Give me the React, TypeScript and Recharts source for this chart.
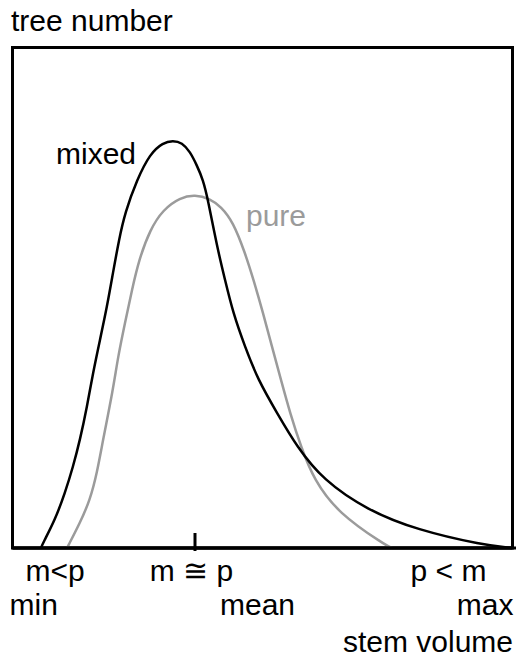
import {
  LineChart,
  Line,
  XAxis,
  YAxis,
  ReferenceArea,
  ReferenceLine,
  ReferenceDot,
} from 'recharts';

// stem volume (0 = min, 100 = max) against tree number (relative)
const mixedX = [5.7, 6.1, 8.5, 10.5, 12.1, 13.5, 14.9, 16.1, 17.5, 18.9, 20.1, 21.3, 22.5, 24.9, 27.5, 30.1, 32.1, 33.9, 35.5, 36.9, 38.1, 39.1, 40.9, 42.5, 44.1, 46.5, 49.1, 52.9, 56.9, 62.1, 70.9, 80.9, 94.1, 99.9];
const mixedY = [0, 1, 5.6, 11, 16.2, 21.6, 28.2, 35, 41.6, 48.2, 55, 61.6, 67, 73.6, 78.8, 81, 81.4, 81, 79.2, 76.4, 73.6, 69.6, 60.2, 53.6, 47, 40.2, 33.6, 27, 20.2, 13.6, 7.6, 3.6, 0.6, 0];

const pureX = [10.9, 13.5, 15.5, 16.9, 18.1, 20.1, 21.1, 22.5, 23.9, 25.3, 27.5, 30.1, 33.5, 36.5, 39.5, 41.7, 44.1, 46.5, 48.2, 50.1, 51.9, 53.7, 55.5, 57.7, 60.3, 65.1, 74.5, 75.9];
const pureY = [0, 5, 9.6, 15, 21.6, 31.6, 38.2, 45, 51.6, 57.6, 63.6, 67.6, 70, 70.6, 69.8, 68.2, 65.2, 59, 53.6, 47, 40.2, 33.6, 27, 20.2, 13.6, 7, 0.6, 0];

const ratioTicks = [8.5, 35.8, 87.2];
const ratioLabels = ['m<p', 'm \u2245 p', 'p < m'];
const rangeTicks = [0, 49, 100];
const rangeLabels = ['min', 'mean', 'max'];
const meanMark = 36.5;

const mixedData = mixedX.map((x, i) => ({ x, y: mixedY[i] }));
const pureData = pureX.map((x, i) => ({ x, y: pureY[i] }));

const FONT = '"Liberation Sans", Arial, sans-serif';
const GREY = '#9b9b9b';

function note(text: string, color = '#000', anchor = 'start') {
  return ({ viewBox }: any) => {
    if (!viewBox) return null;
    return (
      <text x={viewBox.x} y={viewBox.y} fill={color} fontSize={30} fontFamily={FONT} textAnchor={anchor}>
        {text}
      </text>
    );
  };
}

function StemTick(props: any) {
  const { x, y, payload } = props;
  const ri = ratioTicks.indexOf(payload.value);
  if (ri >= 0) {
    return (
      <text x={x} y={y + 33} textAnchor="middle" fontSize={30} fontFamily={FONT} fill="#000">
        {ratioLabels[ri]}
      </text>
    );
  }
  const gi = rangeTicks.indexOf(payload.value);
  if (gi < 0) return null;
  const anchor = gi === 0 ? 'start' : gi === rangeTicks.length - 1 ? 'end' : 'middle';
  const dx = gi === 0 ? -3 : gi === rangeTicks.length - 1 ? 1 : 0;
  return (
    <text x={x + dx} y={y + 67} textAnchor={anchor} fontSize={30} fontFamily={FONT} fill="#000">
      {rangeLabels[gi]}
    </text>
  );
}

export default function App() {
  return (
    <div style={{ position: 'absolute', left: 0, top: 0, width: 516, height: 657, background: '#fff' }}>
      <LineChart
        width={516}
        height={657}
        margin={{ top: 47.5, right: 3.5, bottom: 0, left: 12.5 }}
      >
        <XAxis
          dataKey="x"
          type="number"
          domain={[0, 100]}
          ticks={[...ratioTicks, ...rangeTicks]}
          interval={0}
          height={109}
          tickLine={false}
          tickSize={0}
          tickMargin={0}
          axisLine={{ stroke: '#000', strokeWidth: 3 }}
          tick={StemTick}
          label={{
            content: ({ viewBox }: any) =>
              viewBox ? (
                <text
                  x={viewBox.x + viewBox.width + 0.5}
                  y={viewBox.y + viewBox.height - 5}
                  textAnchor="end"
                  fontSize={30}
                  fontFamily={FONT}
                  fill="#000"
                >
                  stem volume
                </text>
              ) : null,
          }}
        />
        <YAxis type="number" domain={[0, 100]} hide />

        <Line
          data={pureData}
          dataKey="y"
          type="basis"
          stroke={GREY}
          strokeWidth={2.5}
          dot={false}
          isAnimationActive={false}
        />
        <Line
          data={mixedData}
          dataKey="y"
          type="basis"
          stroke="#000"
          strokeWidth={2.5}
          dot={false}
          isAnimationActive={false}
        />

        <ReferenceArea x1={0} x2={100} y1={0} y2={100} fill="none" stroke="#000" strokeWidth={3} />

        {/* the baseline runs on past the frame to the page edge */}
        <ReferenceLine
          segment={[{ x: 0, y: 0 }, { x: 100.8, y: 0 }]}
          stroke="#000"
          strokeWidth={3}
          ifOverflow="visible"
        />

        {/* tick at the mean of both stands */}
        <ReferenceLine
          segment={[{ x: meanMark, y: -0.6 }, { x: meanMark, y: 3 }]}
          stroke="#000"
          strokeWidth={3}
          ifOverflow="visible"
        />

        <ReferenceDot x={-0.3} y={103.2} r={0} ifOverflow="visible" label={{ content: note('tree number') }} />
        <ReferenceDot x={8.7} y={76.8} r={0} ifOverflow="visible" label={{ content: note('mixed') }} />
        <ReferenceDot x={46.7} y={64.4} r={0} ifOverflow="visible" label={{ content: note('pure', GREY) }} />
      </LineChart>
    </div>
  );
}
